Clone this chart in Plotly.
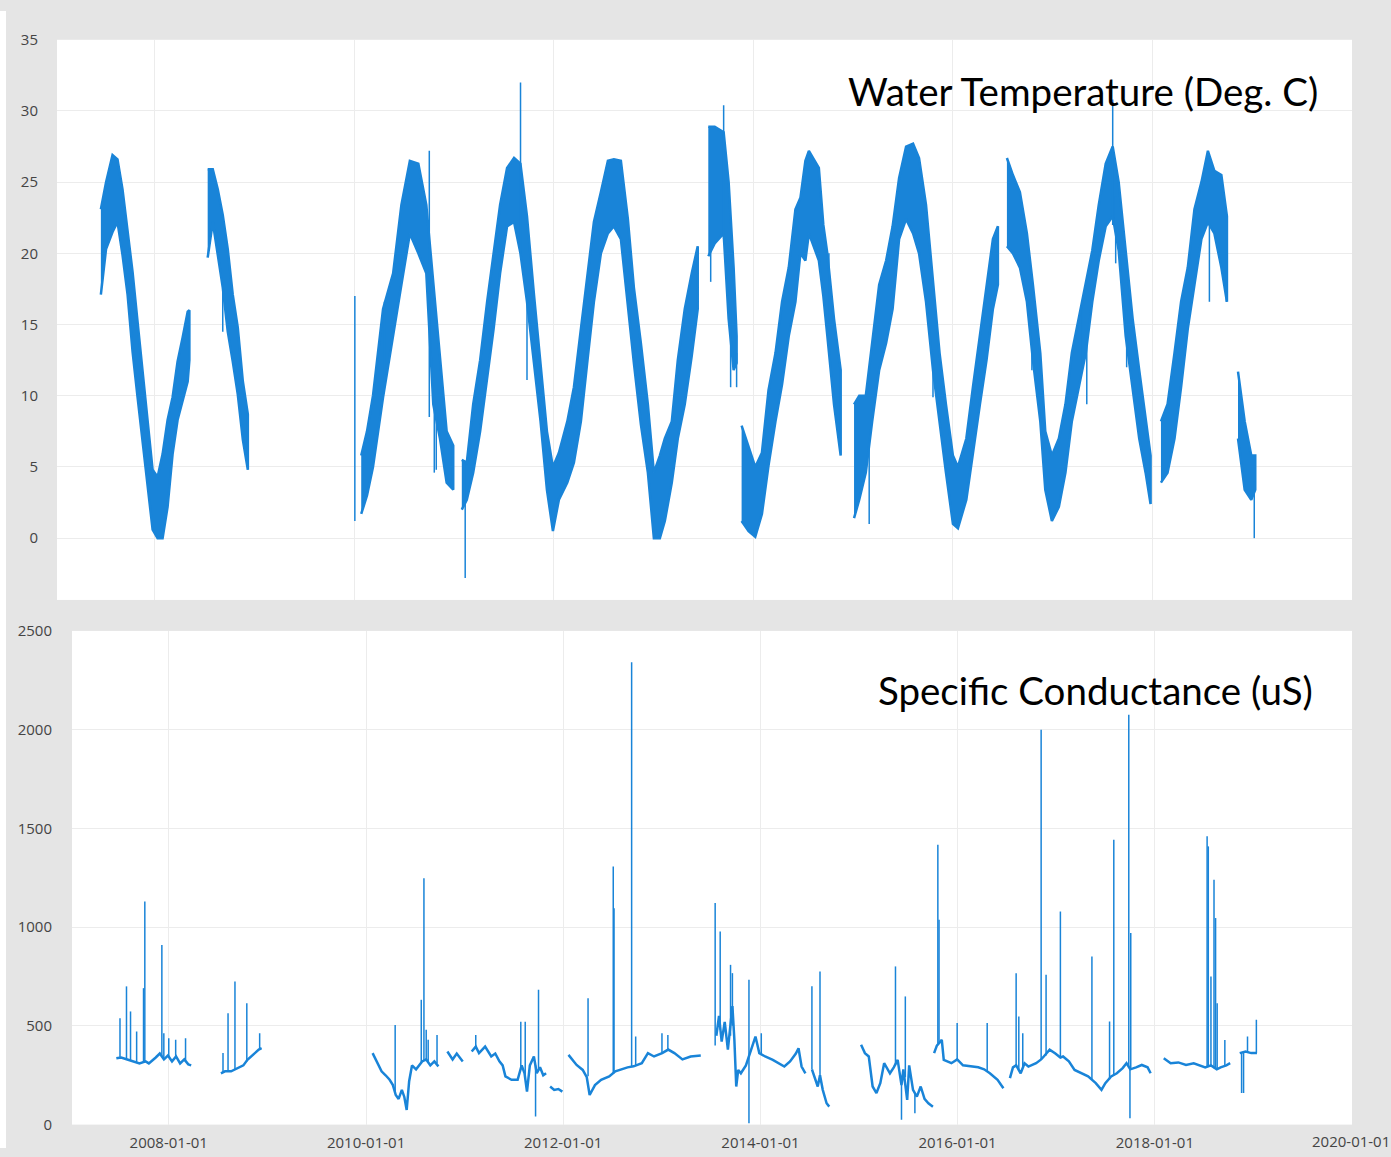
import plotly.graph_objects as go
from datetime import datetime

W, H = 1391, 1157
BLUE = "#1984d8"

# ---------------- Water temperature (decimal year, low, high) ----------------
WT_2007 = [(2007.458, 17.1, 23.1), (2007.51, 20.3, 25.0), (2007.575, 21.5, 26.9),
           (2007.625, 22.2, 26.6), (2007.675, 19.9, 24.5), (2007.726, 17.1, 21.5),
           (2007.776, 13.1, 18.7), (2007.826, 9.9, 15.2), (2007.876, 6.9, 11.5),
           (2007.926, 3.6, 8.3), (2007.977, 0.6, 4.8), (2008.027, 0.0, 4.3),
           (2008.077, 0.0, 5.9), (2008.127, 2.2, 8.3), (2008.177, 5.9, 9.9),
           (2008.227, 8.3, 12.4), (2008.278, 9.7, 14.1), (2008.328, 11.0, 15.9),
           (2008.345, 12.5, 16.0)]
WT_2008 = [(2008.528, 19.7, 25.9), (2008.579, 22.2, 25.9), (2008.629, 19.9, 24.5),
           (2008.679, 17.6, 22.7), (2008.729, 14.5, 20.3), (2008.779, 12.4, 17.1),
           (2008.829, 10.1, 14.8), (2008.88, 6.9, 11.0), (2008.93, 4.8, 8.7)]
WT_2010 = [(2010.067, 1.7, 5.8), (2010.125, 3.0, 7.5), (2010.185, 5.0, 10.0),
           (2010.286, 9.9, 16.1), (2010.387, 14.2, 18.6), (2010.47, 17.8, 23.4),
           (2010.555, 21.4, 26.5), (2010.64, 20.0, 26.3), (2010.72, 18.6, 23.4),
           (2010.79, 9.4, 17.8), (2010.857, 7.0, 13.0), (2010.924, 3.9, 7.5),
           (2010.99, 3.4, 6.5)]
WT_2011 = [(2011.076, 2.0, 5.5), (2011.126, 2.7, 5.3), (2011.19, 4.6, 9.4),
           (2011.26, 7.5, 12.5), (2011.33, 11.1, 16.6), (2011.395, 14.7, 20.0),
           (2011.46, 18.6, 23.4), (2011.53, 21.9, 26.0), (2011.60, 22.2, 26.7),
           (2011.664, 20.0, 26.3), (2011.73, 16.6, 22.6), (2011.80, 12.3, 17.1),
           (2011.866, 8.2, 12.3), (2011.93, 3.4, 7.5), (2011.99, 0.5, 5.0),
           (2012.05, 2.7, 6.0), (2012.134, 3.9, 8.2), (2012.20, 5.3, 10.6),
           (2012.27, 8.2, 14.7), (2012.336, 12.5, 18.6), (2012.40, 16.6, 22.2),
           (2012.47, 20.0, 24.3), (2012.54, 21.4, 26.5), (2012.60, 21.9, 26.6),
           (2012.67, 21.0, 26.5), (2012.74, 16.1, 22.4), (2012.80, 12.3, 17.6),
           (2012.87, 8.0, 13.7), (2012.94, 4.6, 9.4), (2013.00, 0.0, 4.6),
           (2013.06, 0.0, 5.8), (2013.11, 1.2, 7.0), (2013.18, 3.9, 8.2),
           (2013.24, 7.0, 12.5), (2013.31, 9.4, 16.1), (2013.38, 12.8, 18.6),
           (2013.44, 16.1, 20.5)]
WT_2013 = [(2013.546, 19.8, 28.9), (2013.61, 20.7, 28.9), (2013.70, 21.4, 28.5),
           (2013.75, 15.4, 25.0), (2013.80, 11.8, 19.0), (2013.83, 12.3, 14.2)]
WT_2014 = [(2013.88, 1.2, 7.9), (2013.95, 0.5, 6.5), (2014.017, 0.1, 5.0),
           (2014.084, 1.7, 6.0), (2014.15, 5.1, 10.4), (2014.22, 8.2, 13.0),
           (2014.286, 10.8, 16.6), (2014.353, 14.2, 19.0), (2014.42, 16.6, 23.1),
           (2014.47, 20.0, 23.9), (2014.52, 19.5, 26.5), (2014.555, 21.4, 27.2),
           (2014.655, 19.5, 26.0), (2014.70, 17.0, 22.0), (2014.74, 14.2, 20.0),
           (2014.807, 9.4, 15.4), (2014.874, 5.8, 11.8)]
WT_2015 = [(2015.008, 1.4, 9.4), (2015.06, 2.7, 10.0), (2015.126, 4.6, 10.0),
           (2015.19, 8.2, 13.7), (2015.26, 11.8, 17.8), (2015.33, 13.7, 19.5),
           (2015.395, 16.1, 21.9), (2015.46, 21.0, 25.3), (2015.53, 22.4, 27.5),
           (2015.60, 21.4, 27.7), (2015.66, 20.0, 26.7), (2015.73, 16.6, 23.4),
           (2015.80, 11.8, 17.8), (2015.866, 8.2, 13.0), (2015.93, 4.6, 9.4),
           (2016.00, 1.0, 5.8), (2016.05, 0.7, 5.0), (2016.134, 2.7, 7.0),
           (2016.20, 5.8, 10.6), (2016.27, 9.4, 14.2), (2016.336, 12.5, 17.8),
           (2016.40, 16.1, 21.0), (2016.45, 17.8, 21.9)]
WT_2016 = [(2016.54, 20.5, 26.7), (2016.60, 20.0, 25.5), (2016.67, 19.0, 24.3),
           (2016.74, 16.6, 21.4), (2016.80, 12.5, 17.8), (2016.874, 8.2, 13.0),
           (2016.924, 3.4, 7.5), (2016.99, 1.2, 5.8), (2017.06, 2.2, 7.0),
           (2017.126, 4.6, 9.4), (2017.19, 8.2, 13.0), (2017.26, 10.6, 15.4),
           (2017.33, 13.0, 17.8), (2017.395, 16.6, 20.2), (2017.46, 19.5, 23.4),
           (2017.53, 21.9, 26.3), (2017.60, 22.6, 27.5), (2017.66, 20.2, 25.0),
           (2017.73, 14.2, 20.2), (2017.80, 10.6, 15.4), (2017.866, 7.0, 11.8),
           (2017.93, 4.6, 8.2), (2017.98, 2.4, 5.8)]
WT_2018 = [(2018.084, 3.9, 8.2), (2018.15, 4.6, 9.4), (2018.22, 7.0, 13.0),
           (2018.286, 10.6, 16.6), (2018.353, 14.7, 19.0), (2018.42, 17.8, 23.1),
           (2018.49, 21.0, 25.0), (2018.555, 22.2, 27.2), (2018.62, 21.4, 25.8),
           (2018.69, 19.0, 25.5), (2018.746, 16.6, 22.6)]
WT_2019 = [(2018.857, 7.0, 11.7), (2018.924, 3.4, 8.2), (2018.99, 2.7, 5.8),
           (2019.03, 3.4, 5.8)]
WT_SPIKES = [(2008.679, 14.5, 18.0), (2010.003, 1.2, 17.0), (2010.30, 11.0, 16.6),
             (2010.75, 8.5, 27.2), (2010.80, 4.6, 10.0), (2010.82, 4.8, 9.0),
             (2011.11, -2.8, 5.3), (2011.665, 20.0, 32.0), (2011.73, 11.1, 17.0),
             (2011.87, 9.6, 12.0), (2013.57, 18.0, 22.0),
             (2013.70, 21.0, 30.4), (2013.77, 10.6, 16.0), (2013.83, 10.6, 13.0),
             (2014.756, 15.0, 20.0), (2015.16, 1.0, 7.0), (2015.80, 9.9, 13.0),
             (2016.79, 11.8, 14.0), (2017.29, 12.0, 16.6), (2017.34, 9.4, 14.0),
             (2017.63, 19.3, 24.0), (2017.74, 12.0, 16.0), (2017.60, 22.0, 30.8),
             (2018.57, 16.6, 22.0), (2018.74, 16.6, 20.0), (2019.02, 0.0, 4.0)]

# ---------------- Specific conductance (decimal year, value) ----------------
SC_1 = [(2007.468, 336), (2007.517, 340), (2007.579, 330), (2007.641, 318),
        (2007.703, 310), (2007.765, 320), (2007.798, 310), (2007.868, 340),
        (2007.909, 360), (2007.951, 330), (2007.992, 350), (2008.033, 320),
        (2008.074, 345), (2008.115, 310), (2008.157, 330), (2008.198, 305),
        (2008.227, 300)]
SC_2 = [(2008.528, 260), (2008.569, 270), (2008.631, 270), (2008.672, 280),
        (2008.713, 286), (2008.755, 300), (2008.796, 328), (2008.837, 345),
        (2008.878, 362), (2008.911, 380), (2008.940, 387)]
SC_3 = [(2010.066, 362), (2010.107, 320), (2010.157, 270), (2010.198, 250),
        (2010.239, 227), (2010.272, 200), (2010.301, 150), (2010.330, 130),
        (2010.363, 176), (2010.388, 140), (2010.412, 74), (2010.437, 220),
        (2010.466, 300), (2010.507, 280), (2010.536, 300), (2010.569, 320),
        (2010.610, 330), (2010.652, 300), (2010.693, 320), (2010.734, 295)]
SC_4 = [(2010.825, 370), (2010.878, 330), (2010.92, 360), (2010.981, 320)]
SC_5 = [(2011.072, 370), (2011.113, 395), (2011.146, 362), (2011.208, 395),
        (2011.27, 345), (2011.311, 360), (2011.353, 320), (2011.386, 300),
        (2011.414, 244), (2011.476, 227), (2011.538, 227), (2011.579, 300),
        (2011.608, 260), (2011.633, 167), (2011.662, 300), (2011.703, 345),
        (2011.732, 260), (2011.765, 290), (2011.798, 250), (2011.827, 260)]
SC_6 = [(2011.868, 193), (2011.909, 176), (2011.951, 180), (2011.992, 167)]
SC_7 = [(2012.054, 353), (2012.095, 330), (2012.136, 302), (2012.198, 277),
        (2012.239, 240), (2012.268, 150), (2012.322, 200), (2012.384, 227),
        (2012.466, 244), (2012.528, 270), (2012.59, 280), (2012.652, 290),
        (2012.713, 295), (2012.796, 311), (2012.858, 362), (2012.92, 345),
        (2013.002, 362), (2013.064, 380), (2013.126, 362), (2013.208, 330),
        (2013.291, 345), (2013.394, 350)]
SC_8 = [(2013.552, 450), (2013.579, 550), (2013.606, 420), (2013.637, 520),
        (2013.669, 380), (2013.715, 600), (2013.735, 429), (2013.754, 193),
        (2013.774, 277), (2013.801, 260), (2013.852, 300), (2013.91, 395),
        (2013.949, 446), (2013.988, 362), (2014.047, 345), (2014.125, 328),
        (2014.183, 311), (2014.242, 294), (2014.30, 320), (2014.359, 360),
        (2014.386, 387), (2014.417, 294), (2014.456, 260)]
SC_9 = [(2014.522, 280), (2014.554, 230), (2014.581, 193), (2014.604, 250),
        (2014.632, 176), (2014.671, 108), (2014.698, 91)]
SC_10 = [(2015.021, 404), (2015.06, 362), (2015.099, 345), (2015.138, 193),
         (2015.177, 160), (2015.216, 210), (2015.255, 311), (2015.314, 260),
         (2015.353, 290), (2015.392, 328), (2015.431, 200), (2015.45, 280),
         (2015.489, 125), (2015.509, 300), (2015.548, 176), (2015.587, 142),
         (2015.626, 193), (2015.665, 130), (2015.704, 108), (2015.75, 91)]
SC_11 = [(2015.762, 362), (2015.79, 400), (2015.84, 429), (2015.86, 328),
         (2015.938, 311), (2015.996, 330), (2016.055, 300), (2016.133, 294),
         (2016.21, 290), (2016.269, 280), (2016.327, 260), (2016.405, 227),
         (2016.464, 184)]
SC_12 = [(2016.53, 235), (2016.561, 290), (2016.593, 300), (2016.639, 260),
         (2016.678, 310), (2016.717, 294), (2016.795, 311), (2016.846, 330),
         (2016.873, 345), (2016.932, 379), (2016.99, 360), (2017.041, 340),
         (2017.068, 345), (2017.127, 320), (2017.185, 277), (2017.263, 260),
         (2017.322, 244), (2017.40, 210), (2017.458, 176), (2017.497, 210),
         (2017.556, 244), (2017.614, 260), (2017.673, 286), (2017.712, 311),
         (2017.75, 280), (2017.809, 290), (2017.867, 302), (2017.926, 290),
         (2017.957, 260)]
SC_13 = [(2018.09, 336), (2018.16, 311), (2018.238, 315), (2018.316, 302),
         (2018.394, 310), (2018.472, 294), (2018.511, 290), (2018.569, 300),
         (2018.628, 280), (2018.667, 290), (2018.725, 300), (2018.764, 311)]
SC_14 = [(2018.861, 362), (2018.92, 370), (2018.978, 362), (2019.036, 362)]
SC_SPIKES = [(2007.505, 336, 539), (2007.571, 335, 700), (2007.612, 325, 573),
             (2007.674, 315, 471), (2007.744, 315, 691), (2007.757, 315, 1130),
             (2007.930, 345, 910), (2007.95, 330, 463), (2008.0, 345, 437),
             (2008.07, 340, 430), (2008.17, 325, 437),
             (2008.549, 265, 362), (2008.60, 270, 564), (2008.67, 280, 725),
             (2008.79, 320, 615), (2008.92, 382, 463),
             (2010.295, 160, 505), (2010.56, 310, 632), (2010.587, 325, 1248),
             (2010.61, 330, 480), (2010.63, 315, 430), (2010.72, 310, 454),
             (2011.113, 395, 454), (2011.57, 290, 521), (2011.615, 250, 521),
             (2011.72, 41, 300), (2011.75, 280, 683),
             (2012.252, 245, 640), (2012.507, 260, 1307), (2012.515, 260, 1096),
             (2012.693, 292, 2341), (2012.734, 298, 446), (2013.0, 362, 463),
             (2013.06, 378, 454),
             (2013.54, 400, 1122), (2013.591, 480, 978), (2013.696, 450, 809),
             (2013.715, 500, 767), (2013.883, 7, 733), (2014.008, 355, 463),
             (2014.522, 280, 700), (2014.604, 250, 775),
             (2015.37, 300, 801), (2015.431, 24, 200), (2015.47, 240, 649),
             (2015.567, 58, 160),
             (2015.80, 410, 1417), (2015.812, 410, 1037), (2015.996, 330, 514),
             (2016.30, 270, 514),
             (2016.593, 300, 767), (2016.62, 280, 547), (2016.66, 290, 463),
             (2016.846, 330, 2000), (2016.896, 350, 759), (2017.041, 340, 1079),
             (2017.361, 230, 851), (2017.54, 230, 522), (2017.583, 250, 1443),
             (2017.735, 290, 2076), (2017.747, 32, 280), (2017.755, 280, 970),
             (2018.53, 292, 1460), (2018.542, 295, 1409), (2018.569, 300, 750),
             (2018.60, 285, 1240), (2018.616, 282, 1046), (2018.632, 282, 615),
             (2018.71, 298, 429),
             (2018.88, 160, 365), (2018.90, 160, 368), (2018.94, 368, 446),
             (2019.03, 362, 531)]

X_START, X_END = 2007.018, 2020.0005
WT_RANGE = [-4.34, 35]
SC_RANGE = [0, 2500]
TITLE_WT = "Water Temperature (Deg. C)"
TITLE_SC = "Speci<span style='color:#010101'>f</span>ic Conductance (uS)"
LAST_TICK_LABEL = "2020-01-01"


def dy(y):
    """decimal year -> datetime"""
    yr = int(y)
    a, b = datetime(yr, 1, 1), datetime(yr + 1, 1, 1)
    return a + (b - a) * (y - yr)


fig = go.Figure()

# temperature band polygons
px, py = [], []
for seg in [WT_2007, WT_2008, WT_2010, WT_2011, WT_2013, WT_2014, WT_2015,
            WT_2016, WT_2018, WT_2019]:
    px += [dy(t) for t, lo, hi in seg] + [dy(t) for t, lo, hi in reversed(seg)] + [None]
    py += [hi for t, lo, hi in seg] + [lo for t, lo, hi in reversed(seg)] + [None]
fig.add_trace(go.Scatter(x=px, y=py, mode="lines", fill="toself", fillcolor=BLUE,
                         line=dict(color=BLUE, width=2.5), xaxis="x", yaxis="y",
                         hoverinfo="skip", showlegend=False))
sx, sy = [], []
for t, a, b in WT_SPIKES:
    sx += [dy(t), dy(t), None]
    sy += [a, b, None]
fig.add_trace(go.Scatter(x=sx, y=sy, mode="lines", line=dict(color=BLUE, width=1.5),
                         xaxis="x", yaxis="y", showlegend=False))

# conductance line
cx, cy = [], []
for seg in [SC_1, SC_2, SC_3, SC_4, SC_5, SC_6, SC_7, SC_8, SC_9, SC_10,
            SC_11, SC_12, SC_13, SC_14]:
    cx += [dy(t) for t, v in seg] + [None]
    cy += [v for t, v in seg] + [None]
fig.add_trace(go.Scatter(x=cx, y=cy, mode="lines", line=dict(color=BLUE, width=2.5),
                         xaxis="x2", yaxis="y2", showlegend=False))
kx, ky = [], []
for t, a, b in SC_SPIKES:
    kx += [dy(t), dy(t), None]
    ky += [a, b, None]
fig.add_trace(go.Scatter(x=kx, y=ky, mode="lines", line=dict(color=BLUE, width=1.5),
                         xaxis="x2", yaxis="y2", showlegend=False))

tickfont = dict(family="Open Sans", size=15, color="#444")
grid = "#ececec"
fig.update_layout(
    width=W, height=H, autosize=False, margin=dict(l=0, r=0, t=0, b=0),
    paper_bgcolor="#e5e5e5", plot_bgcolor="white", showlegend=False,
    xaxis=dict(domain=[57 / W, 1352 / W], anchor="y", type="date",
               range=[dy(X_START), dy(X_END)], dtick="M24", tick0="2008-01-01",
               showticklabels=False, gridcolor=grid, zeroline=False, showline=False),
    yaxis=dict(domain=[0.48202, 0.97468], anchor="x", range=WT_RANGE,
               dtick=5, tickfont=tickfont, gridcolor=grid, zeroline=False,
               ticks="outside", ticklen=15, tickcolor="rgba(0,0,0,0)"),
    xaxis2=dict(domain=[72 / W, 1352 / W], anchor="y2", type="date",
                range=[dy(X_START), dy(X_END)], dtick="M24", tick0="2008-01-01",
                tickformat="%Y-%m-%d", tickfont=tickfont, gridcolor=grid,
                zeroline=False, ticks="outside", ticklen=4, tickcolor="rgba(0,0,0,0)"),
    yaxis2=dict(domain=[0.02057, 0.45479], anchor="x2", range=SC_RANGE,
                dtick=500, tickfont=tickfont, gridcolor=grid, zeroline=False,
                ticks="outside", ticklen=16, tickcolor="rgba(0,0,0,0)"),
    shapes=[
        dict(type="rect", xref="paper", yref="paper", x0=0, x1=6 / W, y0=0, y1=1,
             fillcolor="white", line=dict(width=0), layer="below"),
    ],
    annotations=[
        dict(text=TITLE_WT, xref="paper", yref="paper",
             x=1320 / W, y=0.92938, xanchor="right", yanchor="middle",
             showarrow=False, font=dict(family="Lato", size=38.5, color="black")),
        dict(text=TITLE_SC, xref="paper", yref="paper",
             x=1315 / W, y=0.40294, xanchor="right", yanchor="middle",
             showarrow=False, font=dict(family="Lato", size=38.5, color="black")),
        dict(text=LAST_TICK_LABEL, xref="paper", yref="paper", x=1.0, y=0.0065,
             xanchor="right", yanchor="middle", align="left", showarrow=False,
             borderpad=0, font=tickfont),
    ],
)

post = ("document.documentElement.style.margin='0';document.body.style.margin='0';"
        "document.body.style.overflow='hidden';"
        "var gd=document.getElementById('{plot_id}');"
        "gd.style.width='1391px';gd.style.height='1157px';"
        "Plotly.relayout(gd,{width:1391,height:1157});")
fig.write_html("out.html", post_script=post, config={"responsive": False})
